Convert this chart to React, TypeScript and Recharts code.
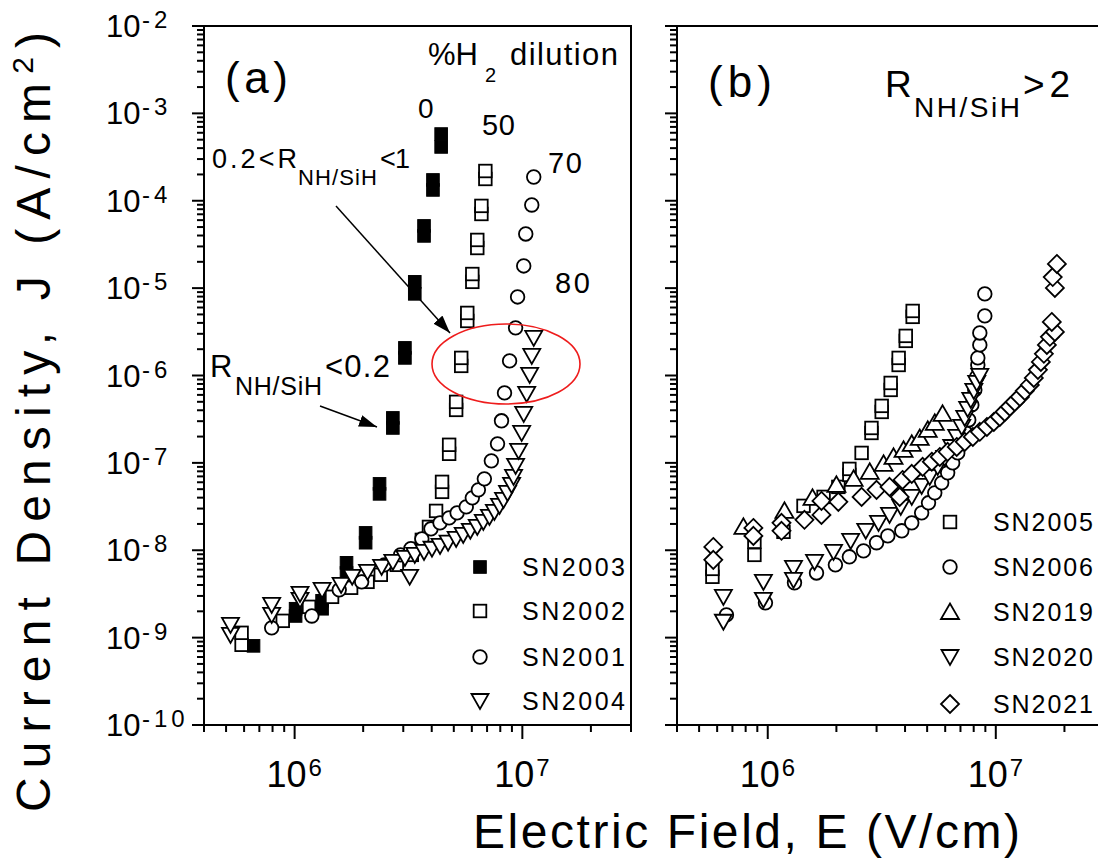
import { ScatterChart, Scatter, XAxis, YAxis, ReferenceArea } from "recharts";

const FONT = "'Liberation Sans', Arial, Helvetica, sans-serif";

// E (V/cm), J (A/cm^2)
const SN2003: [number, number][] = [
  [4.4e6, 5.8e-4], [4.4e6, 4.13e-4], [4.05e6, 1.73e-4], [4.05e6, 1.33e-4],
  [3.7e6, 5.15e-5], [3.7e6, 3.96e-5], [3.37e6, 1.18e-5], [3.37e6, 8.6e-6],
  [3.05e6, 2.07e-6], [3.05e6, 1.59e-6], [2.7e6, 3.27e-7], [2.7e6, 2.51e-7],
  [2.36e6, 5.75e-8], [2.36e6, 4.42e-8], [2.05e6, 1.58e-8], [2.05e6, 1.22e-8],
  [1.69e6, 7.18e-9], [1.69e6, 5.5e-9], [1.32e6, 2.64e-9], [1.32e6, 2.14e-9],
  [1.01e6, 2.14e-9], [1.01e6, 1.77e-9], [6.6e5, 8.05e-10],
];
const SN2002: [number, number][] = [
  [5.85e5, 8.28e-10], [5.85e5, 1.135e-9], [8.87e5, 1.556e-9], [1.157e6, 2.25e-9],
  [1.46e6, 2.93e-9], [1.77e6, 3.72e-9], [2.09e6, 4.35e-9], [2.39e6, 5.24e-9],
  [2.81e6, 6.81e-9], [3.27e6, 8.85e-9], [3.62e6, 1.315e-8], [3.89e6, 1.85e-8],
  [4.18e6, 2.82e-8], [4.44e6, 4.66e-8], [4.44e6, 6.06e-8], [4.77e6, 1.27e-7],
  [4.77e6, 1.61e-7], [5.12e6, 4.04e-7], [5.12e6, 4.99e-7], [5.39e6, 1.288e-6],
  [5.39e6, 1.59e-6], [5.73e6, 4.21e-6], [5.73e6, 5.2e-6], [6.03e6, 1.18e-5],
  [6.03e6, 1.45e-5], [6.34e6, 2.88e-5], [6.34e6, 3.56e-5], [6.61e6, 7.06e-5],
  [6.61e6, 8.73e-5], [6.88e6, 1.776e-4], [6.88e6, 2.19e-4],
];
const SN2001: [number, number][] = [
  [7.93e5, 1.294e-9], [1.19e6, 1.77e-9], [1.57e6, 3.52e-9], [1.97e6, 4.35e-9],
  [2.48e6, 6.81e-9], [2.92e6, 8.85e-9], [3.24e6, 1.04e-8], [3.62e6, 1.35e-8],
  [3.97e6, 1.76e-8], [4.35e6, 2.06e-8], [4.77e6, 2.35e-8], [5.17e6, 2.68e-8],
  [5.67e6, 3.14e-8], [6.03e6, 3.98e-8], [6.41e6, 4.91e-8], [6.81e6, 6.56e-8],
  [7.31e6, 1.055e-7], [7.78e6, 1.65e-7], [8.1e6, 3.03e-7], [8.35e6, 6.32e-7],
  [8.79e6, 1.47e-6], [9.34e6, 3.51e-6], [9.53e6, 7.93e-6], [1.014e7, 1.795e-5],
  [1.035e7, 4.17e-5], [1.1e7, 8.95e-5], [1.122e7, 1.87e-4],
];
const SN2004: [number, number][] = [
  [5.23e5, 1.076e-9], [5.23e5, 1.4e-9], [7.93e5, 1.82e-9], [7.93e5, 2.37e-9],
  [1.056e6, 2.71e-9], [1.056e6, 3.17e-9], [1.32e6, 3.52e-9], [1.6e6, 4.02e-9],
  [1.79e6, 4.97e-9], [2.09e6, 5.66e-9], [2.41e6, 6.46e-9], [2.7e6, 7.37e-9],
  [3.2e6, 4.97e-9], [3.05e6, 8.18e-9], [3.37e6, 8.85e-9], [3.7e6, 9.59e-9],
  [4.01e6, 1.04e-8], [4.35e6, 1.12e-8], [4.72e6, 1.22e-8], [5.12e6, 1.35e-8],
  [5.5e6, 1.5e-8], [5.91e6, 1.67e-8], [6.34e6, 1.85e-8], [6.74e6, 2.11e-8],
  [7.17e6, 2.41e-8], [7.54e6, 2.75e-8], [7.94e6, 3.22e-8], [8.27e6, 3.77e-8],
  [8.61e6, 4.54e-8], [8.97e6, 5.6e-8], [9.15e6, 6.92e-8], [9.34e6, 9.25e-8],
  [9.63e6, 1.37e-7], [9.93e6, 2.2e-7], [1.014e7, 3.64e-7], [1.045e7, 6.16e-7],
  [1.077e7, 1.016e-6], [1.1e7, 1.676e-6], [1.122e7, 2.69e-6],
];

const SN2005: [number, number][] = [
  [5.72e5, 4.97e-9], [5.72e5, 6.12e-9], [8.74e5, 8.85e-9], [8.74e5, 1.25e-8],
  [1.172e6, 1.625e-8], [1.435e6, 3.22e-8], [1.757e6, 4.08e-8], [2.04e6, 5.31e-8],
  [2.28e6, 7.29e-8], [2.28e6, 8.53e-8], [2.58e6, 1.3e-7], [2.85e6, 2.2e-7],
  [2.85e6, 2.51e-7], [3.16e6, 3.83e-7], [3.16e6, 4.49e-7], [3.46e6, 6.84e-7],
  [3.46e6, 8.22e-7], [3.75e6, 1.32e-6], [3.75e6, 1.59e-6], [4.03e6, 2.49e-6],
  [4.03e6, 2.84e-6], [4.32e6, 4.69e-6], [4.32e6, 5.48e-6],
];
const SN2006: [number, number][] = [
  [6.59e5, 1.82e-9], [9.77e5, 2.5e-9], [1.31e6, 4.24e-9], [1.636e6, 5.5e-9],
  [1.98e6, 6.81e-9], [2.28e6, 8.41e-9], [2.63e6, 9.84e-9], [3.0e6, 1.22e-8],
  [3.36e6, 1.46e-8], [3.87e6, 1.67e-8], [4.28e6, 2.06e-8], [4.73e6, 2.68e-8],
  [5.07e6, 3.49e-8], [5.4e6, 4.54e-8], [5.79e6, 5.91e-8], [6.15e6, 7.7e-8],
  [6.47e6, 1.0e-7], [6.81e6, 1.3e-7], [7.09e6, 1.7e-7], [7.38e6, 2.2e-7],
  [7.61e6, 3.1e-7], [7.85e6, 4.61e-7], [8.09e6, 6.84e-7], [8.25e6, 9.64e-7],
  [8.34e6, 1.32e-6], [8.34e6, 1.59e-6], [8.51e6, 2.24e-6], [8.51e6, 3.07e-6],
  [8.95e6, 4.81e-6], [8.95e6, 8.59e-6],
];
const SN2019: [number, number][] = [
  [7.82e5, 1.85e-8], [1.184e6, 2.82e-8], [1.571e6, 3.98e-8], [2.0e6, 5.6e-8],
  [2.38e6, 6.56e-8], [2.8e6, 7.89e-8], [3.22e6, 9.75e-8], [3.56e6, 1.17e-7],
  [3.94e6, 1.41e-7], [4.28e6, 1.65e-7], [4.64e6, 1.93e-7], [5.03e6, 2.39e-7],
  [5.4e6, 2.87e-7], [5.84e6, 3.64e-7],
];
const SN2020: [number, number][] = [
  [6.39e5, 2.93e-9], [6.39e5, 1.52e-9], [9.57e5, 4.35e-9], [9.57e5, 2.71e-9],
  [1.297e6, 6.29e-9], [1.297e6, 4.58e-9], [1.604e6, 7.37e-9], [1.943e6, 9.59e-9],
  [2.31e6, 1.28e-8], [2.69e6, 1.67e-8], [3.06e6, 2.06e-8], [3.42e6, 2.54e-8],
  [3.83e6, 3.14e-8], [4.28e6, 4.08e-8], [4.73e6, 5.46e-8], [5.13e6, 6.92e-8],
  [5.56e6, 9.0e-8], [5.97e6, 1.14e-7], [6.41e6, 1.52e-7], [6.74e6, 1.98e-7],
  [7.09e6, 2.58e-7], [7.31e6, 3.27e-7], [7.53e6, 4.15e-7], [7.77e6, 5.26e-7],
  [8.01e6, 6.67e-7], [8.25e6, 8.22e-7], [8.51e6, 9.89e-7],
];
const SN2021: [number, number][] = [
  [5.77e5, 1.09e-8], [5.77e5, 7.76e-9], [8.65e5, 1.8e-8], [8.65e5, 1.46e-8],
  [1.149e6, 2.06e-8], [1.149e6, 1.67e-8], [1.449e6, 2.23e-8], [1.72e6, 2.54e-8],
  [1.72e6, 3.67e-8], [2.04e6, 3.58e-8], [2.58e6, 4.08e-8], [3.0e6, 4.91e-8],
  [3.42e6, 5.31e-8], [3.79e6, 4.08e-8], [3.9e6, 6.38e-8], [4.28e6, 7.48e-8],
  [4.78e6, 9.0e-8], [5.24e6, 1.03e-7], [5.68e6, 1.17e-7], [6.15e6, 1.34e-7],
  [6.74e6, 1.52e-7], [7.31e6, 1.74e-7], [7.93e6, 1.98e-7], [8.51e6, 2.27e-7],
  [9.14e6, 2.58e-7], [9.8e6, 2.94e-7], [1.041e7, 3.36e-7], [1.094e7, 3.83e-7],
  [1.152e7, 4.39e-7], [1.211e7, 4.99e-7], [1.275e7, 5.69e-7], [1.34e7, 6.67e-7],
  [1.41e7, 7.8e-7], [1.468e7, 9.39e-7], [1.53e7, 1.16e-6], [1.576e7, 1.43e-6],
  [1.625e7, 1.77e-6], [1.675e7, 2.24e-6], [1.727e7, 2.77e-6], [1.816e7, 3.15e-6],
  [1.76e7, 4.1e-6], [1.816e7, 1.005e-5], [1.777e7, 1.34e-5], [1.853e7, 1.89e-5],
];

const X_DOMAIN = [4e5, 3e7];
const Y_DOMAIN = [1e-10, 1e-2];
const X_TICKS = [4e5, 5e5, 6e5, 7e5, 8e5, 9e5, 1e6, 2e6, 3e6, 4e6, 5e6, 6e6, 7e6, 8e6, 9e6, 1e7, 2e7, 3e7];
const Y_EXPONENTS = [-10, -9, -8, -7, -6, -5, -4, -3];
const Y_TICKS = [...Y_EXPONENTS.flatMap((e) => [1, 2, 3, 4, 5, 6, 7, 8, 9].map((m) => m * Math.pow(10, e))), 1e-2];

type Kind = "filledSquare" | "square" | "circle" | "down" | "up" | "diamond";

const toPts = (arr: [number, number][]) => arr.map(([x, y]) => ({ x, y }));

function marker(kind: Kind, cx: number, cy: number, key?: string | number) {
  const sw = 1.8;
  switch (kind) {
    case "filledSquare":
      return <rect key={key} x={cx - 6.3} y={cy - 6.3} width={12.6} height={12.6} fill="#000" stroke="#000" strokeWidth={1} />;
    case "square":
      return <rect key={key} x={cx - 6.3} y={cy - 6.3} width={12.6} height={12.6} fill="#fff" stroke="#000" strokeWidth={sw} />;
    case "circle":
      return <circle key={key} cx={cx} cy={cy} r={6.8} fill="#fff" stroke="#000" strokeWidth={sw} />;
    case "down":
      return <path key={key} d={`M${cx - 8.5},${cy - 7} L${cx + 8.5},${cy - 7} L${cx},${cy + 8} Z`} fill="#fff" stroke="#000" strokeWidth={sw} />;
    case "up":
      return <path key={key} d={`M${cx - 9},${cy + 7} L${cx + 9},${cy + 7} L${cx},${cy - 8.5} Z`} fill="#fff" stroke="#000" strokeWidth={sw} />;
    case "diamond":
      return <path key={key} d={`M${cx},${cy - 9} L${cx + 9},${cy} L${cx},${cy + 9} L${cx - 9},${cy} Z`} fill="#fff" stroke="#000" strokeWidth={sw} />;
  }
}

const shapeOf = (kind: Kind) => (p: any) => {
  if (p == null || p.cx == null || p.cy == null) return <g />;
  return marker(kind, p.cx, p.cy) as any;
};

const isMajor = (v: number) => Math.abs(Math.log10(v) - Math.round(Math.log10(v))) < 1e-6;

function XTick(props: any) {
  const { x, y, payload } = props;
  const v = payload.value;
  const major = isMajor(v);
  const exp = Math.round(Math.log10(v));
  return (
    <g>
      <line x1={x} y1={y} x2={x} y2={y + (major ? 14 : 7)} stroke="#000" strokeWidth={2} />
      {major && (
        <text x={x + 12} y={787} textAnchor="end" fontSize={36} fontFamily={FONT} fill="#000">
          10
        </text>
      )}
      {major && (
        <text x={x + 14} y={776} fontSize={24} fontFamily={FONT} fill="#000">
          {exp}
        </text>
      )}
    </g>
  );
}

const makeYTick = (labels: boolean) => (props: any) => {
  const { x, y, payload } = props;
  const v = payload.value;
  const major = isMajor(v);
  const exp = Math.round(Math.log10(v));
  return (
    <g>
      <line x1={x - (major ? 12 : 7)} y1={y} x2={x} y2={y} stroke="#000" strokeWidth={2} />
      {labels && major && (
        <text x={106} y={y + 11} fontSize={31} fontFamily={FONT} fill="#000">
          10
        </text>
      )}
      {labels && major && (
        <text x={142} y={y + 2} fontSize={24} letterSpacing={4} fontFamily={FONT} fill="#000">
          {exp}
        </text>
      )}
    </g>
  );
};

interface Series {
  name: string;
  kind: Kind;
  data: [number, number][];
}

const PANEL_A: Series[] = [
  { name: "SN2003", kind: "filledSquare", data: SN2003 },
  { name: "SN2002", kind: "square", data: SN2002 },
  { name: "SN2001", kind: "circle", data: SN2001 },
  { name: "SN2004", kind: "down", data: SN2004 },
];
const PANEL_B: Series[] = [
  { name: "SN2005", kind: "square", data: SN2005 },
  { name: "SN2006", kind: "circle", data: SN2006 },
  { name: "SN2019", kind: "up", data: SN2019 },
  { name: "SN2020", kind: "down", data: SN2020 },
  { name: "SN2021", kind: "diamond", data: SN2021 },
];

function Panel({ series, width, left, right, labels }: { series: Series[]; width: number; left: number; right: number; labels: boolean }) {
  return (
    <ScatterChart width={width} height={864} margin={{ top: 26, right, bottom: 99, left }}>
      <XAxis
        type="number"
        dataKey="x"
        scale="log"
        domain={X_DOMAIN}
        ticks={X_TICKS}
        interval={0}
        allowDataOverflow
        height={40}
        tickSize={0}
        tickMargin={0}
        tickLine={false}
        axisLine={{ stroke: "#000", strokeWidth: 2 }}
        tick={(p: any) => <XTick {...p} />}
      />
      <YAxis
        type="number"
        dataKey="y"
        scale="log"
        domain={Y_DOMAIN}
        ticks={Y_TICKS}
        interval={0}
        allowDataOverflow
        width={100}
        tickSize={0}
        tickMargin={0}
        tickLine={false}
        axisLine={{ stroke: "#000", strokeWidth: 2 }}
        tick={makeYTick(labels)}
      />
      <ReferenceArea x1={X_DOMAIN[0]} x2={X_DOMAIN[1]} y1={Y_DOMAIN[0]} y2={Y_DOMAIN[1]} fill="none" fillOpacity={0} stroke="#000" strokeWidth={2} ifOverflow="visible" />
      {series.map((s) => (
        <Scatter key={s.name} name={s.name} data={toPts(s.data)} shape={shapeOf(s.kind)} isAnimationActive={false} />
      ))}
    </ScatterChart>
  );
}

function Legend({ series, mx, tx, rows, len }: { series: Series[]; mx: number; tx: number; rows: number[]; len: number }) {
  return (
    <g>
      {series.map((s, i) => (
        <g key={s.name}>
          {marker(s.kind, mx, rows[i])}
          <text x={tx} y={rows[i] + 9} fontSize={25} fontFamily={FONT} textLength={len} fill="#000">
            {s.name}
          </text>
        </g>
      ))}
    </g>
  );
}

function Annotations() {
  const t = { fontFamily: FONT, fill: "#000" };
  return (
    <svg width={1098} height={864} style={{ position: "absolute", left: 0, top: 0, pointerEvents: "none" }}>
      <defs>
        <marker id="ah" markerUnits="userSpaceOnUse" markerWidth={20} markerHeight={12} refX={18} refY={6} orient="auto">
          <path d="M0,0 L18,6 L0,12 Z" fill="#000" />
        </marker>
      </defs>
      {/* axis titles */}
      <text {...t} x={473} y={848} fontSize={48} textLength={547}>
        Electric Field, E (V/cm)
      </text>
      <text {...t} transform="translate(50,812) rotate(-90)" fontSize={48} textLength={780}>
        Current Density, J (A/cm<tspan dy={-17} fontSize={30}>2</tspan>
        <tspan dy={17}>)</tspan>
      </text>

      {/* panel a */}
      <text {...t} x={225} y={93} fontSize={44} textLength={63}>(a)</text>
      <text {...t} x={428} y={65} fontSize={31} textLength={50}>%H</text>
      <text {...t} x={485} y={82} fontSize={20}>2</text>
      <text {...t} x={510} y={65} fontSize={31} textLength={108}>dilution</text>
      <text {...t} x={418} y={118} fontSize={28}>0</text>
      <text {...t} x={482} y={135} fontSize={29} textLength={33}>50</text>
      <text {...t} x={548} y={173} fontSize={29} textLength={34}>70</text>
      <text {...t} x={555} y={293} fontSize={29} textLength={35}>80</text>

      <text {...t} x={212} y={168} fontSize={27} textLength={85}>0.2&lt;R</text>
      <text {...t} x={298} y={185} fontSize={22} textLength={79}>NH/SiH</text>
      <text {...t} x={380} y={168} fontSize={27} textLength={30}>&lt;1</text>
      <line x1={336} y1={206} x2={450} y2={333} stroke="#000" strokeWidth={1.5} markerEnd="url(#ah)" />

      <text {...t} x={210} y={377} fontSize={31}>R</text>
      <text {...t} x={235} y={395} fontSize={25} textLength={87}>NH/SiH</text>
      <text {...t} x={325} y={377} fontSize={31} textLength={65}>&lt;0.2</text>
      <line x1={320} y1={406} x2={377} y2={427} stroke="#000" strokeWidth={1.5} markerEnd="url(#ah)" />

      <ellipse cx={506} cy={364} rx={74} ry={40} fill="none" stroke="#ee1c1c" strokeWidth={1.6} />

      <Legend series={PANEL_A} mx={480} tx={522} rows={[567, 611, 657, 701]} len={103} />

      {/* panel b */}
      <text {...t} x={708} y={97} fontSize={44} textLength={64}>(b)</text>
      <text {...t} x={885} y={97} fontSize={37}>R</text>
      <text {...t} x={914} y={117} fontSize={28} textLength={106}>NH/SiH</text>
      <text {...t} x={1023} y={97} fontSize={37} textLength={47}>&gt;2</text>

      <Legend series={PANEL_B} mx={950} tx={993} rows={[522, 567, 612, 657, 704]} len={100} />
    </svg>
  );
}

export default function App() {
  return (
    <div style={{ position: "absolute", left: 0, top: 0, width: 1098, height: 864, overflow: "hidden", background: "#fff" }}>
      <div style={{ position: "absolute", left: 0, top: 0 }}>
        <Panel series={PANEL_A} width={1098} left={104} right={467} labels />
      </div>
      <div style={{ position: "absolute", left: 0, top: 0 }}>
        <Panel series={PANEL_B} width={1110} left={577} right={5.4} labels={false} />
      </div>
      <Annotations />
    </div>
  );
}
